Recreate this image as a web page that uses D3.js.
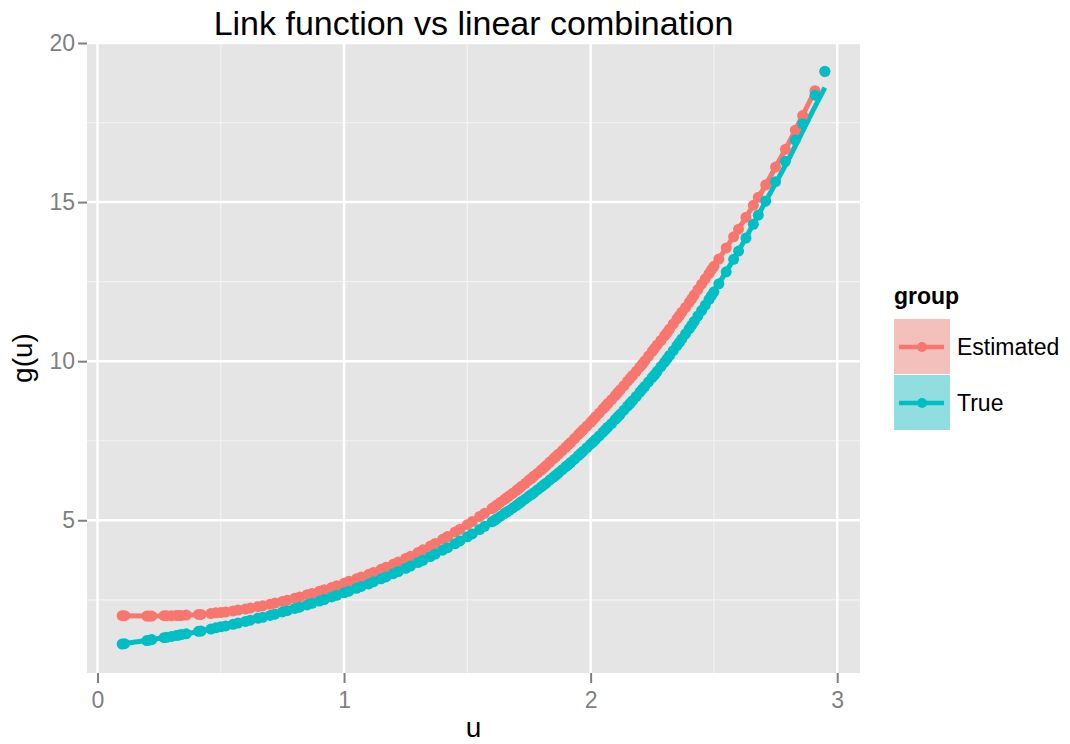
<!doctype html>
<html>
<head>
<meta charset="utf-8">
<script src="https://cdn.jsdelivr.net/npm/d3@7"></script>
<style>
  body { margin: 0; background: #fff; }
  svg { display: block; font-family: "Liberation Sans", Arial, sans-serif; }
</style>
</head>
<body>
<svg id="chart" width="1070" height="744"></svg>
<script>
// --- data ---
var groups = ["Estimated", "True"];
var groupColors = ["#F8766D", "#00BFC4"];
var xTicks = [0, 1, 2, 3];
var yTicks = [5, 10, 15, 20];
var xMinor = [0.5, 1.5, 2.5];
var yMinor = [2.5, 7.5, 12.5, 17.5];

// observed points (u, estimated g, true g)
var ptU = [0.10, 0.11, 0.20, 0.21, 0.22, 0.27, 0.28, 0.30, 0.32, 0.33, 0.34, 0.36, 0.41, 0.42, 0.46, 0.48,
  0.50, 0.52, 0.55, 0.57, 0.60, 0.62, 0.65, 0.67, 0.70, 0.72, 0.75, 0.77, 0.80, 0.82, 0.85, 0.87, 0.90, 0.92, 0.95, 0.97,
  1.00, 1.02, 1.05, 1.07, 1.10, 1.12, 1.15, 1.17, 1.20, 1.22, 1.25, 1.27, 1.30, 1.32, 1.35, 1.37, 1.40, 1.42, 1.45, 1.47,
  1.50, 1.52, 1.55, 1.57,
  1.600, 1.610, 1.620, 1.635, 1.650, 1.660, 1.670, 1.685, 1.700, 1.710, 1.720, 1.735, 1.750, 1.760, 1.770, 1.785,
  1.800, 1.810, 1.820, 1.835, 1.850, 1.860, 1.870, 1.885, 1.900, 1.910, 1.920, 1.935, 1.950, 1.960, 1.970, 1.985,
  2.000, 2.010, 2.020, 2.035, 2.050, 2.060, 2.070, 2.085, 2.100, 2.110, 2.120, 2.135, 2.150, 2.160, 2.170, 2.185,
  2.200, 2.210, 2.220, 2.235, 2.250, 2.260, 2.270, 2.285, 2.300, 2.310, 2.320, 2.335, 2.350, 2.360, 2.370, 2.385,
  2.400, 2.410, 2.420, 2.435, 2.450, 2.465, 2.480, 2.490,
  2.50, 2.52, 2.55, 2.58, 2.60, 2.63, 2.66, 2.68, 2.71, 2.75, 2.79, 2.83, 2.86, 2.91, 2.95];
var ptEst = [2.00, 2.00, 1.99, 1.99, 1.99, 2.00, 2.00, 2.00, 2.01, 2.01, 2.01, 2.02, 2.04, 2.04, 2.07, 2.09,
  2.10, 2.12, 2.15, 2.18, 2.21, 2.24, 2.28, 2.31, 2.36, 2.40, 2.45, 2.49, 2.55, 2.59, 2.66, 2.70, 2.77, 2.82, 2.89, 2.94,
  3.02, 3.08, 3.16, 3.22, 3.30, 3.36, 3.46, 3.52, 3.62, 3.69, 3.80, 3.87, 3.99, 4.07, 4.19, 4.27, 4.40, 4.49, 4.63, 4.72,
  4.86, 4.96, 5.12, 5.22,
  5.37, 5.42, 5.48, 5.57, 5.65, 5.71, 5.77, 5.85, 5.94, 6.00, 6.07, 6.16, 6.26, 6.32, 6.39, 6.48,
  6.58, 6.65, 6.72, 6.83, 6.94, 7.01, 7.08, 7.19, 7.30, 7.38, 7.45, 7.57, 7.69, 7.77, 7.85, 7.96,
  8.08, 8.16, 8.25, 8.37, 8.50, 8.58, 8.67, 8.79, 8.92, 9.01, 9.10, 9.23, 9.37, 9.46, 9.55, 9.68,
  9.82, 9.91, 10.01, 10.16, 10.31, 10.41, 10.51, 10.65, 10.80, 10.90, 11.01, 11.17, 11.33, 11.43, 11.54, 11.69,
  11.85, 11.96, 12.08, 12.25, 12.42, 12.59, 12.75, 12.87,
  12.98, 13.21, 13.56, 13.91, 14.15, 14.52, 14.90, 15.15, 15.54, 16.10, 16.66, 17.26, 17.72, 18.50, 19.10];
var ptTrue = [1.11, 1.12, 1.22, 1.23, 1.25, 1.31, 1.32, 1.35, 1.38, 1.39, 1.41, 1.43, 1.51, 1.52, 1.58, 1.62,
  1.65, 1.68, 1.73, 1.77, 1.82, 1.86, 1.92, 1.95, 2.01, 2.05, 2.12, 2.16, 2.23, 2.27, 2.34, 2.39, 2.46, 2.51, 2.59, 2.64,
  2.72, 2.77, 2.86, 2.92, 3.00, 3.07, 3.16, 3.22, 3.32, 3.39, 3.49, 3.56, 3.67, 3.74, 3.86, 3.94, 4.06, 4.14, 4.26, 4.35,
  4.48, 4.57, 4.71, 4.81,
  4.95, 5.00, 5.05, 5.13, 5.21, 5.26, 5.31, 5.39, 5.47, 5.53, 5.59, 5.67, 5.76, 5.81, 5.87, 5.96,
  6.05, 6.11, 6.17, 6.27, 6.36, 6.42, 6.49, 6.59, 6.69, 6.75, 6.82, 6.92, 7.03, 7.10, 7.17, 7.28,
  7.39, 7.46, 7.54, 7.65, 7.77, 7.85, 7.93, 8.04, 8.17, 8.25, 8.33, 8.46, 8.59, 8.67, 8.76, 8.89,
  9.03, 9.12, 9.21, 9.35, 9.49, 9.58, 9.68, 9.83, 9.97, 10.07, 10.18, 10.33, 10.49, 10.59, 10.70, 10.86,
  11.02, 11.13, 11.25, 11.42, 11.59, 11.76, 11.94, 12.06,
  12.18, 12.43, 12.81, 13.20, 13.46, 13.87, 14.30, 14.59, 15.03, 15.64, 16.28, 16.95, 17.46, 18.36, 19.11];

// smoothed lines
var smoothU = [0.1, 0.2, 0.3, 0.4, 0.5, 0.6, 0.7, 0.8, 0.9, 1.0, 1.1, 1.2, 1.3, 1.4, 1.5,
  1.6, 1.7, 1.8, 1.9, 2.0, 2.1, 2.2, 2.3, 2.4, 2.5, 2.6, 2.7, 2.8, 2.9, 2.95];
var smoothEst = [2.00, 1.99, 2.00, 2.03, 2.10, 2.21, 2.36, 2.55, 2.77, 3.02, 3.30, 3.62, 3.99, 4.40, 4.86,
  5.37, 5.94, 6.58, 7.30, 8.08, 8.92, 9.82, 10.80, 11.85, 12.98, 14.15, 15.40, 16.80, 18.35, null];
var smoothTrue = [1.12, 1.22, 1.35, 1.49, 1.65, 1.82, 2.01, 2.23, 2.46, 2.72, 3.00, 3.32, 3.67, 4.06, 4.48,
  4.95, 5.47, 6.05, 6.69, 7.39, 8.17, 9.03, 9.97, 11.02, 12.18, 13.46, 14.88, 16.30, 17.85, 18.60];

// --- layout ---
var panel = { left: 87, right: 860, top: 43, bottom: 673 };
var svg = d3.select("#chart");

var x = d3.scaleLinear().domain([-0.0425, 3.0925]).range([panel.left, panel.right]);
var y = d3.scaleLinear().domain([0.2, 20.0]).range([panel.bottom, panel.top]);

// panel background
svg.append("rect")
  .attr("x", panel.left).attr("y", panel.top)
  .attr("width", panel.right - panel.left).attr("height", panel.bottom - panel.top)
  .attr("fill", "#e5e5e5");

// minor grid
svg.append("g").selectAll("line").data(xMinor).enter().append("line")
  .attr("x1", d => x(d)).attr("x2", d => x(d))
  .attr("y1", panel.top).attr("y2", panel.bottom)
  .attr("stroke", "#f2f2f2").attr("stroke-width", 1.2);
svg.append("g").selectAll("line").data(yMinor).enter().append("line")
  .attr("x1", panel.left).attr("x2", panel.right)
  .attr("y1", d => y(d)).attr("y2", d => y(d))
  .attr("stroke", "#f2f2f2").attr("stroke-width", 1.2);
// major grid
svg.append("g").selectAll("line").data(xTicks).enter().append("line")
  .attr("x1", d => x(d)).attr("x2", d => x(d))
  .attr("y1", panel.top).attr("y2", panel.bottom)
  .attr("stroke", "#ffffff").attr("stroke-width", 2.5);
svg.append("g").selectAll("line").data(yTicks).enter().append("line")
  .attr("x1", panel.left).attr("x2", panel.right)
  .attr("y1", d => y(d)).attr("y2", d => y(d))
  .attr("stroke", "#ffffff").attr("stroke-width", 2.5);

// smooth lines
var smoothSets = [smoothEst, smoothTrue];
var line = d3.line()
  .defined(d => d[1] != null)
  .x(d => x(d[0])).y(d => y(d[1]));
smoothSets.forEach(function(vals, i) {
  svg.append("path")
    .datum(smoothU.map((u, j) => [u, vals[j]]))
    .attr("d", line)
    .attr("fill", "none")
    .attr("stroke", groupColors[i])
    .attr("stroke-width", 5);
});

// points
var pointSets = [ptEst, ptTrue];
pointSets.forEach(function(vals, i) {
  svg.append("g").selectAll("circle")
    .data(ptU.map((u, j) => [u, vals[j]]))
    .enter().append("circle")
    .attr("cx", d => x(d[0])).attr("cy", d => y(d[1]))
    .attr("r", 5.5)
    .attr("fill", groupColors[i]);
});

// axes
var xAxis = svg.append("g")
  .attr("transform", "translate(0," + panel.bottom + ")")
  .call(d3.axisBottom(x).tickValues(xTicks).tickSize(10).tickPadding(9).tickFormat(d3.format("d")));
var yAxis = svg.append("g")
  .attr("transform", "translate(" + panel.left + ",0)")
  .call(d3.axisLeft(y).tickValues(yTicks).tickSize(9).tickPadding(3).tickFormat(d3.format("d")));
[xAxis, yAxis].forEach(function(a) {
  a.select(".domain").remove();
  a.selectAll(".tick line").attr("stroke", "#7f7f7f").attr("stroke-width", 2);
  a.selectAll(".tick text")
    .attr("fill", "#7f7f7f")
    .style("font-size", "23px")
    .style("font-family", "'Liberation Sans', Arial, sans-serif");
});

// titles
svg.append("text")
  .attr("x", (panel.left + panel.right) / 2).attr("y", 35)
  .attr("text-anchor", "middle")
  .style("font-size", "34px")
  .text("Link function vs linear combination");
svg.append("text")
  .attr("x", (panel.left + panel.right) / 2).attr("y", 737)
  .attr("text-anchor", "middle")
  .style("font-size", "28px")
  .text("u");
svg.append("text")
  .attr("transform", "translate(32," + ((panel.top + panel.bottom) / 2) + ") rotate(-90)")
  .attr("text-anchor", "middle")
  .style("font-size", "28px")
  .text("g(u)");

// legend
var keyBg = ["#f4c0bc", "#91dde0"];
var legend = svg.append("g").attr("transform", "translate(894,0)");
legend.append("text")
  .attr("x", 0).attr("y", 304)
  .style("font-size", "23px").style("font-weight", "bold")
  .text("group");
groups.forEach(function(g, i) {
  var top = 319 + i * 56;
  legend.append("rect")
    .attr("x", 0).attr("y", top).attr("width", 56).attr("height", 55)
    .attr("fill", keyBg[i]);
  legend.append("line")
    .attr("x1", 5).attr("x2", 50)
    .attr("y1", top + 28).attr("y2", top + 28)
    .attr("stroke", groupColors[i]).attr("stroke-width", 4.5);
  legend.append("circle")
    .attr("cx", 28).attr("cy", top + 28).attr("r", 5)
    .attr("fill", groupColors[i]);
  legend.append("text")
    .attr("x", 63).attr("y", top + 36)
    .style("font-size", "23px")
    .text(g);
});
</script>
</body>
</html>
